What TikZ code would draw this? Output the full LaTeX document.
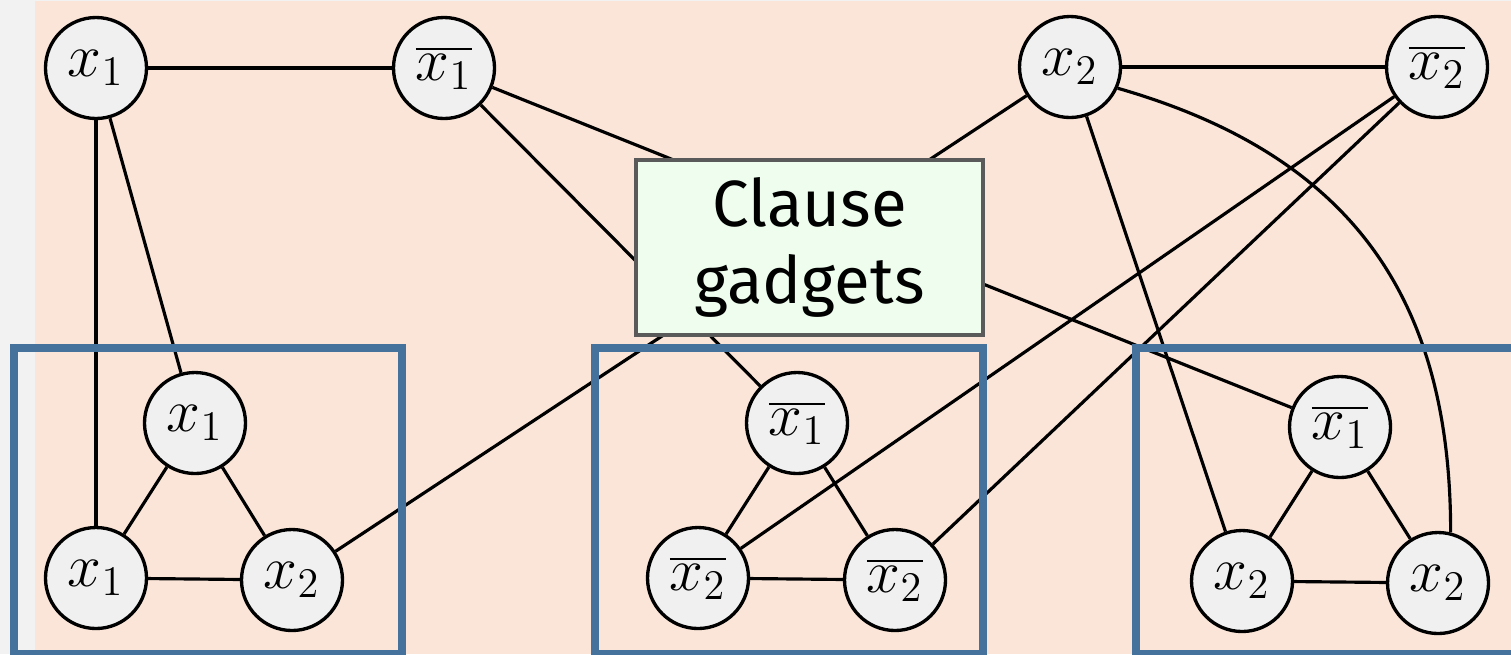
\documentclass[tikz,border=0pt]{standalone}
\usepackage{fontspec}
\setsansfont{Fira Sans}
\definecolor{bgpeach}{RGB}{250,229,216}
\definecolor{bggray}{RGB}{242,242,242}
\definecolor{litfill}{RGB}{240,240,240}
\definecolor{gadblue}{RGB}{68,114,157}
\definecolor{notefill}{RGB}{238,253,238}
\definecolor{noteline}{RGB}{90,90,90}

\begin{document}
\begin{tikzpicture}[
  lit/.style={draw, circle, fill=litfill, line width=0.95pt, minimum size=1.01cm,
              inner sep=0pt, font=\fontsize{18.5}{22}\selectfont},
  wire/.style={line width=0.9pt},
  grp/.style={draw=gadblue, line width=2.3pt},
  note/.style={draw=noteline, fill=notefill, line width=1.4pt, minimum width=3.47cm,
               minimum height=1.75cm, align=center,
               font=\fontsize{18.6}{21.9}\selectfont\sffamily},
]
\useasboundingbox (0,0) rectangle (15.11,6.54);
\clip (0,0) rectangle (15.11,6.54);
\fill[bggray] (0,0) rectangle (15.11,6.54);
\fill[bgpeach] (0.35,0) rectangle (15.11,6.53);

% variable gadgets
\node[lit] (x1)  at (0.96,5.86)  {$x_1$};
\node[lit] (nx1) at (4.44,5.86)  {$\overline{x_1}$};
\node[lit] (x2)  at (10.70,5.87) {$x_2$};
\node[lit] (nx2) at (14.37,5.87) {$\overline{x_2}$};

% clause gadgets
\node[lit] (a1) at (1.95,2.31)  {$x_1$};
\node[lit] (a2) at (0.96,0.76)  {$x_1$};
\node[lit] (a3) at (2.92,0.74)  {$x_2$};
\node[lit] (b1) at (7.97,2.31)  {$\overline{x_1}$};
\node[lit] (b2) at (6.98,0.76)  {$\overline{x_2}$};
\node[lit] (b3) at (8.95,0.74)  {$\overline{x_2}$};
\node[lit] (c1) at (13.40,2.27) {$\overline{x_1}$};
\node[lit] (c2) at (12.42,0.73) {$x_2$};
\node[lit] (c3) at (14.38,0.71) {$x_2$};

\foreach \g in {a,b,c} {
  \draw[wire] (\g1) -- (\g2) -- (\g3) -- (\g1);
}

\draw[wire] (x1) -- (nx1);
\draw[wire] (x2) -- (nx2);
\draw[wire] (x1) -- (a2);
\draw[wire] (x1) -- (a1);
\draw[wire] (nx1) -- (b1);
\draw[wire] (nx1) -- (c1);
\draw[wire] (x2) -- (a3);
\draw[wire] (x2) -- (c2);
\draw[wire] (x2.-24) to[out=-16, in=90, looseness=1.1] (c3.76);
\draw[wire] (nx2) -- (b2);
\draw[wire] (nx2) -- (b3);

% frames round the clauses
\draw[grp] (0.14,0) rectangle (4.02,3.06);
\draw[grp] (5.95,0) rectangle (9.83,3.06);
\draw[grp] (11.36,0) rectangle (15.60,3.06);

\node[note] (cg) at (8.095,4.065) {Clause\\gadgets};
\end{tikzpicture}
\end{document}
